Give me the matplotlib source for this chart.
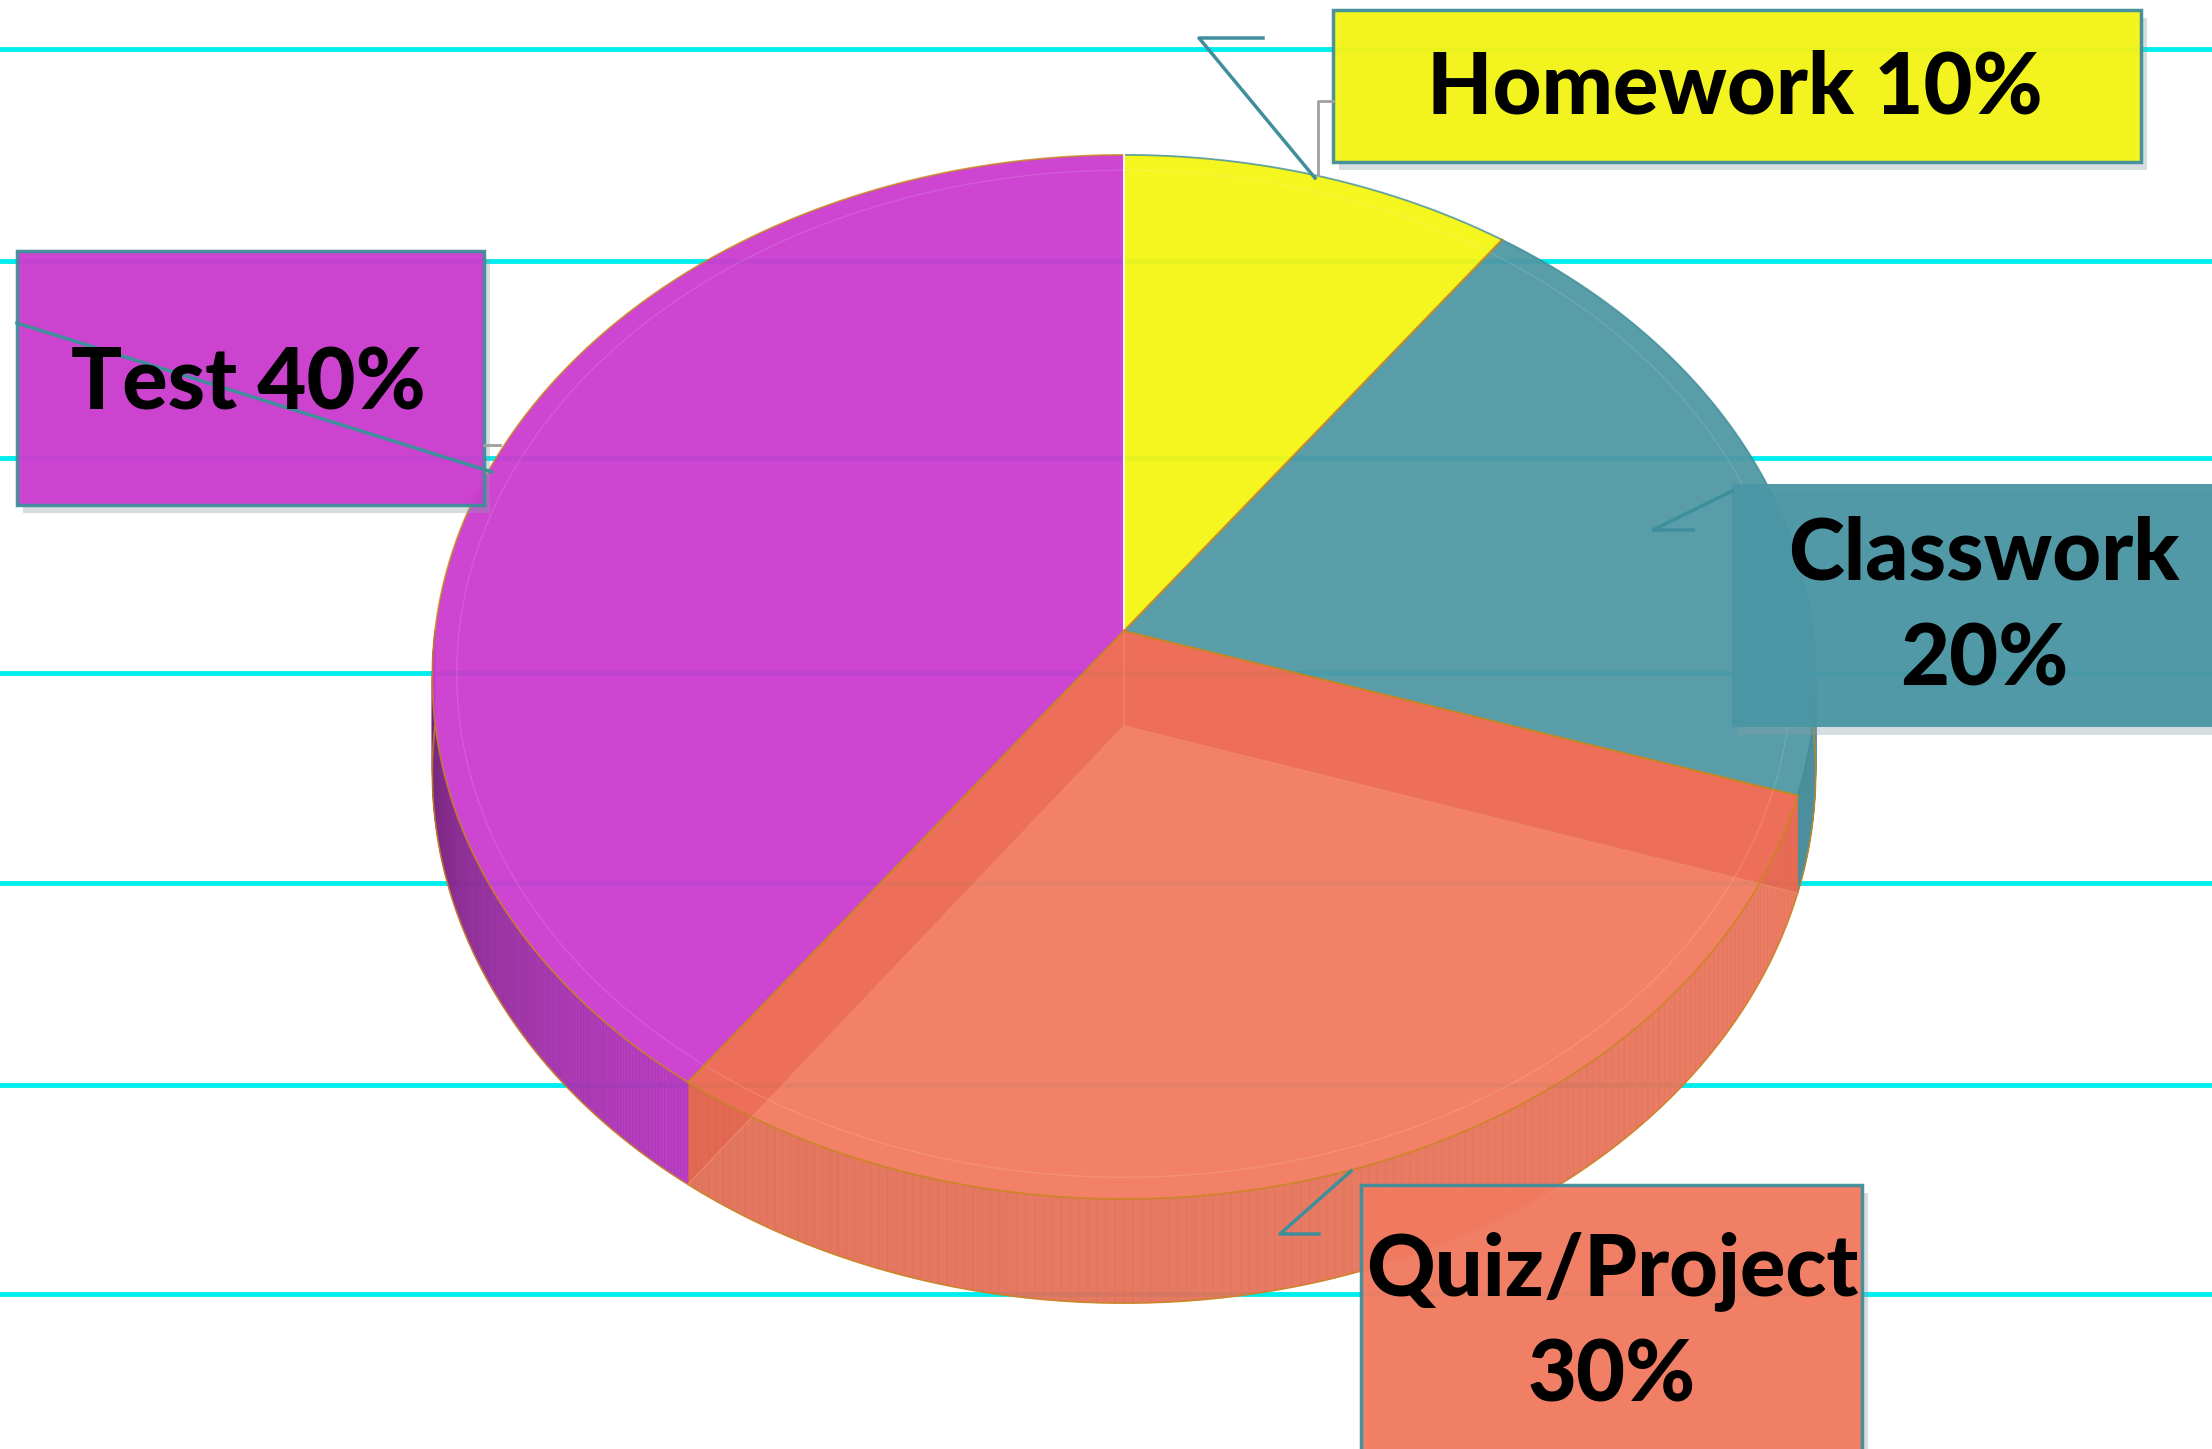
import numpy as np
import matplotlib
matplotlib.use('Agg')
import matplotlib.pyplot as plt
from matplotlib.patches import Polygon, Rectangle
from matplotlib.collections import PolyCollection
from matplotlib.colors import to_rgb

# data
categories = ['Homework', 'Classwork', 'Quiz/Project', 'Test']
shares = [10, 20, 30, 40]
labels = ['Homework 10%', 'Classwork\n20%', 'Quiz/Project\n30%', 'Test 40%']
top_colors = ['#F5F514', '#4F98A4', '#F37A5F', '#CB3BCF']

# pie geometry (pixels), light perspective
CX, CY = 1124, 631
A, B, K, D = 689, 518, 0.088, 95


def rim(t, r=1.0, z=0.0):
    s, c = np.sin(t), np.cos(t)
    w = 1 + K * r * s
    return CX + A * r * c / w, CY - B * r * s / w + z * D / w


fig = plt.figure(figsize=(22.12, 14.49), dpi=100)
ax = fig.add_axes([0, 0, 1, 1])
ax.set_xlim(0, 2212)
ax.set_ylim(1449, 0)
ax.axis('off')

# notebook lines
for gy in [49, 261, 458, 673, 883, 1085, 1294]:
    ax.axhline(gy, color='#00EDF0', lw=3.5, zorder=1)

# slice angles, clockwise from 12 o'clock
total = sum(shares)
edges = 90 - 360 * np.concatenate([[0], np.cumsum(shares)]) / total

# outer side walls (only the front half shows)
wall_light = {'Classwork': '#4A8F9B', 'Quiz/Project': '#E9755B', 'Test': '#B535BE'}
wall_dark = {'Classwork': '#4A8F9B', 'Quiz/Project': '#E06D55', 'Test': '#55205B'}
for i, cat in enumerate(categories):
    t0, t1 = edges[i], edges[i + 1]
    lo, hi = max(min(t0, t1), -180), min(max(t0, t1), 0)
    if cat == 'Test':
        lo, hi = -180, edges[i]
    if lo >= hi or cat not in wall_light:
        continue
    ts = np.radians(np.linspace(lo, hi, 160))
    quads, cols = [], []
    c_lo, c_hi = np.array(to_rgb(wall_dark[cat])), np.array(to_rgb(wall_light[cat]))
    for j in range(len(ts) - 1):
        xa, ya = rim(ts[j]); xb, yb = rim(ts[j + 1])
        xc, yc = rim(ts[j + 1], z=1); xd, yd = rim(ts[j], z=1)
        quads.append([(xa, ya), (xb, yb), (xc, yc), (xd, yd)])
        f = j / (len(ts) - 2)
        cols.append(c_lo + (c_hi - c_lo) * f ** 0.6)
    ax.add_collection(PolyCollection(quads, facecolors=cols, edgecolors=cols,
                                     lw=0.6, alpha=0.94, zorder=2))
    xs, ys = rim(ts, z=1)
    ax.plot(xs, ys, color='#C8861E', lw=1.2, alpha=0.8, zorder=2.5)

# top faces
for i, cat in enumerate(categories):
    ts = np.radians(np.linspace(edges[i], edges[i + 1], 300))
    xs, ys = rim(ts)
    pts = [(CX, CY)] + list(zip(xs, ys))
    ec = '#C8861E' if cat in ('Test', 'Quiz/Project') else '#3F8E9C'
    ax.add_patch(Polygon(pts, closed=True, fc=top_colors[i], ec='none',
                         alpha=0.95, zorder=3))
    ax.plot(xs, ys, color=ec, lw=1.3, alpha=0.8, zorder=3.5)
    # faint inner bevel ring
    xi, yi = rim(ts, r=0.965)
    ax.plot(xi, yi, color='white', lw=1.0, alpha=0.12, zorder=3.4)

# inner cut walls of the Quiz/Project slice, seen through its top
qi = categories.index('Quiz/Project')
for t in [edges[qi], edges[qi + 1]]:
    tr = np.radians(t)
    x1, y1 = rim(tr); x2, y2 = rim(tr, z=1)
    ax.add_patch(Polygon([(CX, CY), (x1, y1), (x2, y2), (CX, CY + D)],
                         closed=True, fc='#E2503F', ec='none',
                         alpha=0.35, zorder=3.3))
    ax.plot([CX, x2], [CY + D, y2], color='#F08A6A', lw=1.2, alpha=0.7, zorder=3.35)
ax.plot([CX, CX], [CY, CY + D], color='#F08A6A', lw=1.2, alpha=0.6, zorder=3.35)

# slice borders on top
for t in edges[:-1]:
    x1, y1 = rim(np.radians(t))
    col = 'white' if abs(t - 90) < 1e-6 else '#C8861E'
    ax.plot([CX, x1], [CY, y1], color=col, lw=1.5, alpha=0.9, zorder=3.6)

# label boxes
boxes = {
    'Homework': (1333, 10, 808, 152, '#3F8E9C'),
    'Classwork': (1732, 484, 500, 243, None),
    'Quiz/Project': (1361, 1185, 501, 300, '#3F8E9C'),
    'Test': (17, 251, 467, 254, '#3F8E9C'),
}
text_pos = {
    'Homework': (1735, 89),
    'Classwork': (1984, 608),
    'Quiz/Project': (1612, 1324),
    'Test': (248, 385),
}
for i, cat in enumerate(categories):
    bx, by, bw, bh, ec = boxes[cat]
    ax.add_patch(Rectangle((bx + 6, by + 8), bw, bh, fc='#8AA0A8', ec='none',
                           alpha=0.35, zorder=4.5))
    fc = '#4A96A4' if cat == 'Classwork' else top_colors[i]
    ax.add_patch(Rectangle((bx, by), bw, bh, fc=fc, ec=ec if ec else 'none',
                           lw=2.5, alpha=0.95, zorder=5))
    tx, ty = text_pos[cat]
    ax.text(tx, ty, labels[i], ha='center', va='center', fontsize=61,
            fontweight='black', family=['Lato', 'DejaVu Sans'],
            linespacing=1.42, color='black', zorder=7)

# leader lines
lc = '#3F8E9C'
ax.plot([1263, 1199, 1315], [38, 38, 178], color=lc, lw=2.5, zorder=6)
ax.plot([1333, 1318, 1318], [101, 101, 175], color='#A0A0A0', lw=2, zorder=6)
ax.plot([17, 492], [323, 472], color=lc, lw=2.5, zorder=6)
ax.plot([484, 500], [445, 445], color='#A0A0A0', lw=2, zorder=6)
ax.plot([1732, 1653, 1693], [491, 530, 530], color=lc, lw=2.5, zorder=6)
ax.plot([1351, 1280, 1319], [1171, 1234, 1234], color=lc, lw=2.5, zorder=6)

plt.savefig('out.png', dpi=100)
